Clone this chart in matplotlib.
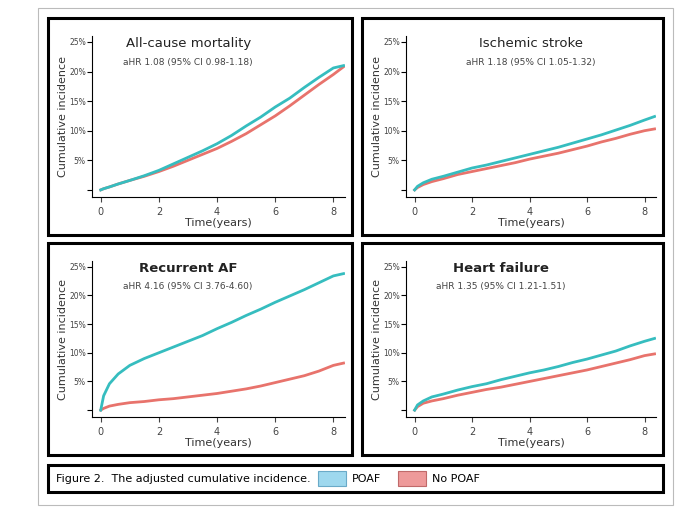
import matplotlib.pyplot as plt
from matplotlib.patches import Rectangle

t = [0, 0.1, 0.3, 0.6, 1, 1.5, 2, 2.5, 3, 3.5, 4, 4.5, 5, 5.5, 6, 6.5, 7, 7.5, 8, 8.35]
titles = ["All-cause mortality", "Ischemic stroke", "Recurrent AF", "Heart failure"]
subs = ["aHR 1.08 (95% CI 0.98-1.18)", "aHR 1.18 (95% CI 1.05-1.32)",
        "aHR 4.16 (95% CI 3.76-4.60)", "aHR 1.35 (95% CI 1.21-1.51)"]
poaf = [[0, 0.2, 0.5, 1.0, 1.6, 2.4, 3.3, 4.4, 5.5, 6.6, 7.8, 9.2, 10.8, 12.3, 14.0, 15.5, 17.3, 19.0, 20.6, 21.0],
        [0, 0.6, 1.2, 1.8, 2.3, 3.0, 3.7, 4.2, 4.8, 5.4, 6.0, 6.6, 7.2, 7.9, 8.6, 9.3, 10.1, 10.9, 11.8, 12.4],
        [0, 2.5, 4.6, 6.3, 7.8, 9.0, 10.0, 11.0, 12.0, 13.0, 14.2, 15.3, 16.5, 17.6, 18.8, 19.9, 21.0, 22.2, 23.4, 23.8],
        [0, 0.9, 1.6, 2.3, 2.8, 3.5, 4.1, 4.6, 5.3, 5.9, 6.5, 7.0, 7.6, 8.3, 8.9, 9.6, 10.3, 11.2, 12.0, 12.5]]
nopoaf = [[0, 0.2, 0.5, 1.0, 1.6, 2.3, 3.1, 4.0, 5.0, 6.0, 7.0, 8.2, 9.5, 11.0, 12.5, 14.2, 16.0, 17.8, 19.5, 20.8],
          [0, 0.4, 0.9, 1.4, 1.9, 2.6, 3.1, 3.6, 4.1, 4.6, 5.2, 5.7, 6.2, 6.8, 7.4, 8.1, 8.7, 9.4, 10.0, 10.3],
          [0, 0.3, 0.7, 1.0, 1.3, 1.5, 1.8, 2.0, 2.3, 2.6, 2.9, 3.3, 3.7, 4.2, 4.8, 5.4, 6.0, 6.8, 7.8, 8.2],
          [0, 0.6, 1.2, 1.6, 2.0, 2.6, 3.1, 3.6, 4.0, 4.5, 5.0, 5.5, 6.0, 6.5, 7.0, 7.6, 8.2, 8.8, 9.5, 9.8]]
teal = "#36BDBF"; red = "#E8736C"

fig = plt.figure(figsize=(6.8, 5.16), dpi=100)
W, H = 680, 516
def fr(x0, y0, x1, y1):
    return [x0 / W, 1 - y1 / H, (x1 - x0) / W, (y1 - y0) / H]

fig.patches.append(Rectangle((38/W, 1-505/H), 635/W, 497/H, transform=fig.transFigure,
                             fill=False, ec="#bbbbbb", lw=0.8))
boxes = [(48, 18, 352, 235), (362, 18, 663, 235), (48, 243, 352, 455), (362, 243, 663, 455)]
for i, (x0, y0, x1, y1) in enumerate(boxes):
    fig.patches.append(Rectangle((x0/W, 1-y1/H), (x1-x0)/W, (y1-y0)/H, transform=fig.transFigure,
                                 fill=False, ec="black", lw=2.2))
    ax = fig.add_axes(fr(x0 + 44, y0 + 18, x1 - 7, y1 - 38))
    ax.plot(t, poaf[i], color=teal, lw=2, zorder=3)
    ax.plot(t, nopoaf[i], color=red, lw=2, zorder=2)
    ax.set_xlim(-0.3, 8.4); ax.set_ylim(-1.2, 26)
    ax.set_xticks([0, 2, 4, 6, 8])
    ax.set_yticks([0, 5, 10, 15, 20, 25])
    ax.set_yticklabels(["", "5%", "10%", "15%", "20%", "25%"], fontsize=5.5, color="#444")
    ax.tick_params(axis='x', labelsize=7, colors="#444")
    ax.tick_params(axis='y', pad=1)
    for s in ["top", "right"]:
        ax.spines[s].set_visible(False)
    ax.set_xlabel("Time(years)", fontsize=8, color="#333", labelpad=1)
    ax.set_ylabel("Cumulative incidence", fontsize=8, color="#333", labelpad=1)
    cx = 0.5 if i == 1 else 0.38
    ax.text(cx, 0.93, titles[i], transform=ax.transAxes, fontsize=9.5,
            ha="center", color="#222", fontweight="bold" if i >= 2 else "normal")
    ax.text(cx, 0.82, subs[i], transform=ax.transAxes, fontsize=6.5,
            ha="center", color="#444")

fig.patches.append(Rectangle((48/W, 1-492/H), 615/W, 27/H, transform=fig.transFigure,
                             fill=False, ec="black", lw=2.2))
fig.text(56/W, 1-479/H, "Figure 2.  The adjusted cumulative incidence.", fontsize=8, va="center")
fig.patches.append(Rectangle((318/W, 1-486/H), 28/W, 15/H, transform=fig.transFigure,
                             fc="#9ED8EE", ec="#6aaac8", lw=0.8))
fig.text(352/W, 1-479/H, "POAF", fontsize=8, va="center")
fig.patches.append(Rectangle((398/W, 1-486/H), 28/W, 15/H, transform=fig.transFigure,
                             fc="#EE9A9A", ec="#c06a6a", lw=0.8))
fig.text(432/W, 1-479/H, "No POAF", fontsize=8, va="center")
fig.savefig("out.png", dpi=100)
